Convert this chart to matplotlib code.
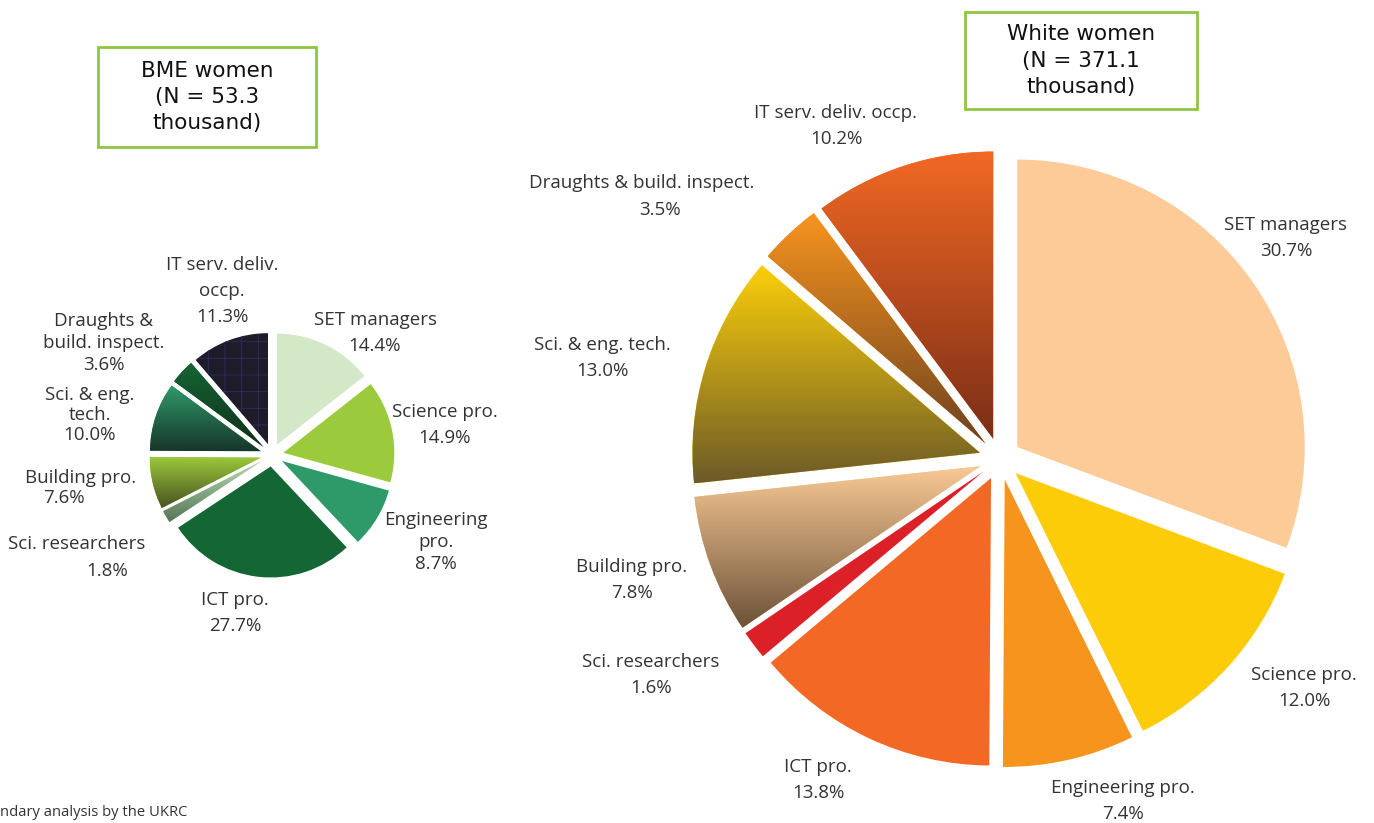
import numpy as np
import matplotlib
matplotlib.use("Agg")
import matplotlib.pyplot as plt
from matplotlib.colors import LinearSegmentedColormap
from matplotlib.patches import Rectangle

plt.rcParams["font.family"] = ["Open Sans", "DejaVu Sans"]
plt.rcParams["hatch.linewidth"] = 0.6

W, H = 1374, 823

categories = ["SET managers", "Science pro.", "Engineering pro.", "ICT pro.",
              "Sci. researchers", "Building pro.", "Sci. & eng. tech.",
              "Draughts & build. inspect.", "IT serv. deliv. occp."]
bme_share = [14.4, 14.9, 8.7, 27.7, 1.8, 7.6, 10.0, 3.6, 11.3]
white_share = [30.7, 12.0, 7.4, 13.8, 1.6, 7.8, 13.0, 3.5, 10.2]
bme_title = "BME women\n(N = 53.3\nthousand)"
white_title = "White women\n(N = 371.1\nthousand)"

# (top, bottom) colour per wedge; same colour twice = flat fill
bme_colors = [("#d2e8c7", "#d2e8c7"), ("#9bca3c", "#9bca3c"), ("#2f9a69", "#2f9a69"),
              ("#146635", "#146635"), ("#b9dbb3", "#557556"), ("#9bca3c", "#4a5222"),
              ("#2f9a69", "#17352a"), ("#146635", "#10301a"), ("#1f1c2a", "#1f1c2a")]
white_colors = [("#fdcb98", "#fdcb98"), ("#fdcc08", "#fdcc08"), ("#f7941e", "#f7941e"),
                ("#f26824", "#f26824"), ("#dc2028", "#dc2028"), ("#f9c995", "#6c5238"),
                ("#fccf0a", "#6c5a28"), ("#f7941e", "#6e4220"), ("#f26824", "#7a2e18")]

# label layout: (text, x px, y px, line spacing)
bme_labels = [("SET managers\n14.4%", 375, 333, 1.6),
              ("Science pro.\n14.9%", 445, 425, 1.6),
              ("Engineering\npro.\n8.7%", 436, 542, 1.28),
              ("ICT pro.\n27.7%", 235, 613, 1.6),
              ("Sci. researchers", 77, 544, 1.6), ("1.8%", 107, 571, 1.6),
              ("Building pro.", 81, 478, 1.6), ("7.6%", 64, 498, 1.6),
              ("Sci. & eng.\ntech.\n10.0%", 90, 415, 1.17),
              ("Draughts &\nbuild. inspect.\n3.6%", 104, 343, 1.28),
              ("IT serv. deliv.\noccp.\n11.3%", 222, 291, 1.6)]
white_labels = [("SET managers\n30.7%", 1286, 238, 1.6),
                ("Science pro.\n12.0%", 1304, 688, 1.6),
                ("Engineering pro.\n7.4%", 1123, 801, 1.6),
                ("ICT pro.\n13.8%", 818, 780, 1.6),
                ("Sci. researchers\n1.6%", 651, 675, 1.6),
                ("Building pro.\n7.8%", 632, 580, 1.6),
                ("Sci. & eng. tech.\n13.0%", 602, 358, 1.6),
                ("Draughts & build. inspect.", 642, 183, 1.6), ("3.5%", 660, 210, 1.6),
                ("IT serv. deliv. occp.\n10.2%", 836, 126, 1.6)]

fig = plt.figure(figsize=(W / 100, H / 100), dpi=100)


def draw_pie(values, colors, cx, cy, r, expl):
    ax = fig.add_axes([0, 0, 1, 1])
    ax.patch.set_alpha(0)
    wedges, _ = ax.pie(values, startangle=90, counterclock=False,
                       colors=[c[0] for c in colors], explode=[expl] * len(values),
                       wedgeprops=dict(linewidth=0))
    grad = np.linspace(0, 1, 256).reshape(-1, 1)
    for w, (top, bot) in zip(wedges, colors):
        if top == bot:
            continue
        ext = w.get_path().get_extents()
        cmap = LinearSegmentedColormap.from_list("g", [bot, top])
        im = ax.imshow(grad, cmap=cmap, origin="lower", aspect="auto",
                       extent=[ext.x0, ext.x1, ext.y0, ext.y1], zorder=w.get_zorder())
        im.set_clip_path(w)
    ax.set_xlim(-cx / r, (W - cx) / r)
    ax.set_ylim((cy - H) / r, cy / r)
    ax.set_axis_off()
    return wedges


bme_wedges = draw_pie(bme_share, bme_colors, 272, 455, 111, 0.104)
white_wedges = draw_pie(white_share, white_colors, 1000, 459, 287.5, 0.073)

# the IT wedge on the left has a faint blue grid
bme_wedges[-1].set_hatch("+")
bme_wedges[-1].set_edgecolor("#2d2c5e")

for text, x, y, ls in bme_labels + white_labels:
    fig.text(x / W, 1 - y / H, text, ha="center", va="center", multialignment="center",
             fontsize=13.5, color="#333333", linespacing=ls)

for title, (x0, y0, x1, y1) in [(bme_title, (98, 47, 316, 147)),
                                (white_title, (965, 12, 1197, 109))]:
    fig.add_artist(Rectangle((x0 / W, 1 - y1 / H), (x1 - x0) / W, (y1 - y0) / H,
                             transform=fig.transFigure, facecolor="white",
                             edgecolor="#8dc63f", linewidth=2))
    fig.text((x0 + x1) / 2 / W, 1 - (y0 + y1) / 2 / H, title, ha="center", va="center",
             fontsize=15.5, color="#111111", linespacing=1.4, family="DejaVu Sans")

fig.text(0, 1 - 812 / H, "ndary analysis by the UKRC", ha="left", va="center",
         fontsize=10.6, color="#333333")

fig.savefig("out.png", dpi=100)
